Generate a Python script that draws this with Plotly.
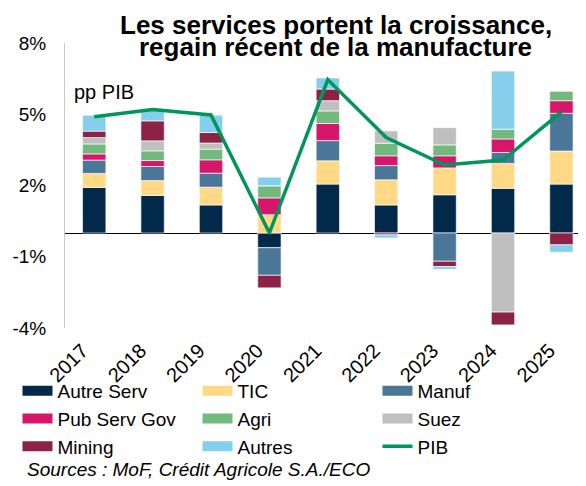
import plotly.graph_objects as go

years = ["2017", "2018", "2019", "2020", "2021", "2022", "2023", "2024", "2025"]

autre_serv = [1.92, 1.58, 1.18, -0.62, 2.06, 1.18, 1.61, 1.88, 2.06]
tic        = [0.59, 0.63, 0.75, 0.77, 0.98, 1.06, 1.13, 1.05, 1.39]
manuf      = [0.56, 0.59, 0.59, -1.16, 0.85, 0.60, -1.19, 0.46, 1.59]
pub_serv   = [0.26, 0.25, 0.56, 0.71, 0.72, 0.41, 0.51, 0.57, 0.53]
agri       = [0.42, 0.41, 0.45, 0.51, 0.53, 0.53, 0.46, 0.41, 0.41]
suez       = [0.27, 0.42, 0.26, 0.00, 0.43, 0.52, 0.73, -3.33, 0.00]
mining     = [0.27, 0.84, 0.44, -0.53, 0.49, -0.08, -0.22, -0.54, -0.50]
autres     = [0.67, 0.52, 0.73, 0.36, 0.47, -0.13, -0.12, 2.45, -0.31]
pib        = [4.89, 5.20, 4.97, 0.00, 6.46, 4.02, 2.86, 3.07, 5.10]

y_tickvals = [-4, -1, 2, 5, 8]
y_ticktext = ["-4%", "-1%", "2%", "5%", "8%"]

series = [
    ("Autre Serv", autre_serv, "#03294A"),
    ("TIC", tic, "#FFD985"),
    ("Manuf", manuf, "#4A7697"),
    ("Pub Serv Gov", pub_serv, "#D6166A"),
    ("Agri", agri, "#73B97D"),
    ("Suez", suez, "#BFBFBF"),
    ("Mining", mining, "#8C2246"),
    ("Autres", autres, "#86CFEC"),
]

FONT = "Liberation Sans, Arial, sans-serif"
fig = go.Figure()
for name, vals, col in series:
    fig.add_trace(go.Bar(
        x=years, y=vals, name=name, marker_color=col,
        marker_line_color="rgba(255,255,255,0.8)", marker_line_width=0.8,
        showlegend=False,
    ))
fig.add_trace(go.Scatter(
    x=years, y=pib, name="PIB", mode="lines",
    line=dict(color="#00965A", width=3.5), showlegend=False,
))
# legend proxies (wide swatches)
for name, vals, col in series:
    fig.add_trace(go.Scatter(x=[None], y=[None], mode="lines", name=name,
                             line=dict(color=col, width=11)))
fig.add_trace(go.Scatter(x=[None], y=[None], mode="lines", name="PIB",
                         line=dict(color="#00965A", width=3.5)))

fig.update_layout(
    width=586, height=486,
    margin=dict(l=57, r=0, t=35, b=166, autoexpand=False),
    paper_bgcolor="white", plot_bgcolor="white",
    barmode="relative", bargap=0.6,
    font=dict(family=FONT, size=18, color="#000000"),
    legend=dict(
        orientation="h", x=-0.0898, xanchor="left", y=-0.154, yanchor="top",
        entrywidth=135, entrywidthmode="pixels", itemwidth=30,
        font=dict(size=19, family=FONT), tracegroupgap=0,
        bgcolor="rgba(0,0,0,0)",
    ),
    showlegend=True,
)
fig.update_xaxes(
    range=[-0.5, 8.558], showgrid=False, showline=False, tickangle=-45,
    tickfont=dict(size=20), ticks="", ticklabelstandoff=6, ticklabelshift=-12,
)
fig.update_yaxes(
    range=[-4, 8], tickvals=y_tickvals, ticktext=y_ticktext, showgrid=False,
    showline=True, linecolor="#C8C8C8", linewidth=1,
    zeroline=True, zerolinecolor="#000000", zerolinewidth=1,
    tickfont=dict(size=19), ticklabelstandoff=14,
)
fig.add_annotation(text="<b>Les services portent la croissance,</b>", xref="paper", yref="paper",
                   x=0.512, y=1.063, xanchor="center", yanchor="middle", showarrow=False,
                   font=dict(size=26))
fig.add_annotation(text="<b>regain récent de la manufacture</b>", xref="paper", yref="paper",
                   x=0.512, y=0.986, xanchor="center", yanchor="middle", showarrow=False,
                   font=dict(size=26))
fig.add_annotation(text="pp PIB", xref="paper", yref="y", x=0.014, y=5.94,
                   xanchor="left", yanchor="middle", showarrow=False,
                   font=dict(size=20))
fig.add_annotation(text="<i>Sources : MoF, Crédit Agricole S.A./ECO</i>",
                   xref="paper", yref="paper", x=-0.0756, y=-0.498,
                   xanchor="left", yanchor="middle", showarrow=False,
                   font=dict(size=19))
fig.write_html("out.html")
